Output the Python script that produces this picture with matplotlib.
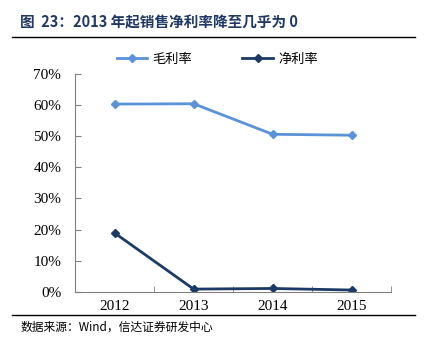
import matplotlib
matplotlib.use('Agg')
import matplotlib.pyplot as plt
from matplotlib.lines import Line2D
from matplotlib.ticker import FuncFormatter

plt.rcParams['font.family'] = ['Noto Sans CJK SC', 'DejaVu Sans']

# 数据
years = ['2012', '2013', '2014', '2015']
gross_margin = [60.3, 60.4, 50.6, 50.3]
net_margin = [18.9, 0.9, 1.1, 0.6]

title_text = '图  23：2013 年起销售净利率降至几乎为 0'
source_text = '数据来源：Wind，信达证券研发中心'

light_blue = '#5B93D8'
navy = '#1B3A66'
gray = '#808080'

fig = plt.figure(figsize=(4.27, 3.5), dpi=100)
ax = fig.add_axes([0.176, 0.166, 0.74, 0.623])

x = list(range(len(years)))
ax.plot(x, gross_margin, color=light_blue, lw=2.0, marker='D', ms=4.5, label='毛利率')
ax.plot(x, net_margin, color=navy, lw=2.0, marker='D', ms=4.5, label='净利率')

ax.set_xlim(-0.5, len(years) - 0.5)
ax.set_ylim(0, 70)
ax.set_yticks(range(0, 71, 10))
ax.yaxis.set_major_formatter(FuncFormatter(lambda v, p: f'{int(v)}%'))

# 类别标签放在中间，刻度在类别之间
ax.set_xticks(x)
ax.set_xticklabels(years)
ax.tick_params(axis='x', which='major', length=0, pad=6)
ax.set_xticks([i + 0.5 for i in x], minor=True)
ax.tick_params(axis='x', which='minor', direction='in', length=4, color=gray)
ax.tick_params(axis='y', direction='in', length=4, color=gray, pad=10)

for lbl in ax.get_xticklabels() + ax.get_yticklabels():
    lbl.set_fontfamily('Liberation Serif')
    lbl.set_fontsize(11)
    lbl.set_color('#000000')

for side in ['top', 'right']:
    ax.spines[side].set_visible(False)
for side in ['left', 'bottom']:
    ax.spines[side].set_color(gray)
    ax.spines[side].set_linewidth(0.8)

leg = ax.legend(loc='lower center', bbox_to_anchor=(0.45, 1.0), ncol=2, frameon=False,
                fontsize=9.5, handlelength=2.3, columnspacing=3.8, handletextpad=0.4,
                borderaxespad=0.2)

# 标题与分隔线
fig.text(0.047, 0.935, title_text, fontsize=10.5, fontweight='bold', color='#1F3864',
         va='center', ha='left')
fig.add_artist(Line2D([0.028, 0.972], [0.894, 0.894], color='#000000', lw=1.0))
fig.add_artist(Line2D([0.028, 0.972], [0.100, 0.100], color='#000000', lw=1.0))
fig.text(0.047, 0.066, source_text, fontsize=8.5, style='italic', color='#000000',
         va='center', ha='left')

fig.savefig('out.png', dpi=100)
